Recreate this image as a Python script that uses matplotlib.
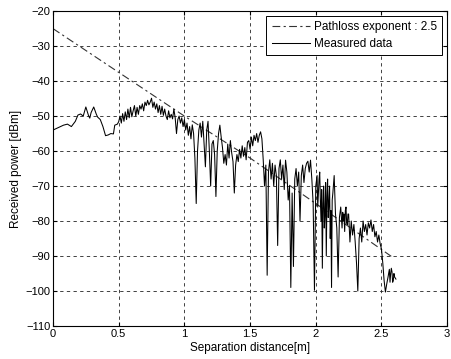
import numpy as np
import matplotlib.pyplot as plt

plt.rcParams['font.family'] = ['Liberation Sans', 'DejaVu Sans']

# pathloss model line (exponent 2.5)
model_d = [0.0, 0.5, 1.0, 1.5, 2.0, 2.59]
model_p = [-25.0, -37.5, -50.0, -62.0, -75.0, -90.5]

# measured received power
meas_d = [
    0.00, 0.04, 0.08, 0.11, 0.14, 0.17, 0.19, 0.21, 0.23, 0.25, 0.27, 0.28, 0.29,
    0.31, 0.33, 0.34, 0.36, 0.38, 0.40, 0.42, 0.44, 0.46, 0.47, 0.49, 0.50,
    0.51, 0.52, 0.53, 0.54, 0.55, 0.56, 0.57, 0.58, 0.59, 0.60, 0.61, 0.62, 0.63,
    0.64, 0.65, 0.66, 0.67, 0.68, 0.69, 0.70, 0.71, 0.72, 0.73, 0.74, 0.75, 0.76,
    0.77, 0.78, 0.79, 0.80, 0.81, 0.82, 0.83, 0.84, 0.85, 0.86, 0.87, 0.88, 0.89,
    0.90, 0.91, 0.92, 0.93, 0.94, 0.95, 0.96, 0.97, 0.98, 0.99, 1.00,
    1.01, 1.02, 1.03, 1.04, 1.05, 1.06, 1.07, 1.08, 1.09, 1.10, 1.11, 1.12, 1.13,
    1.14, 1.15, 1.16, 1.17, 1.18, 1.19, 1.20, 1.21, 1.22, 1.23, 1.24, 1.25, 1.26,
    1.27, 1.28, 1.29, 1.30, 1.31, 1.32, 1.33, 1.34, 1.35, 1.36, 1.37, 1.38, 1.39,
    1.40, 1.41, 1.42, 1.43, 1.44, 1.45, 1.46, 1.47, 1.48, 1.49, 1.50,
    1.51, 1.52, 1.53, 1.54, 1.55, 1.56, 1.57, 1.58, 1.59, 1.60, 1.61, 1.62, 1.63,
    1.64, 1.65, 1.66, 1.67, 1.68, 1.69, 1.70, 1.71, 1.72, 1.73, 1.74, 1.75, 1.76,
    1.77, 1.78, 1.79, 1.80, 1.81, 1.82, 1.83, 1.84, 1.85, 1.86, 1.87, 1.88, 1.89,
    1.90, 1.91, 1.92, 1.93, 1.94, 1.95, 1.96, 1.97, 1.98, 1.99, 2.00,
    2.01, 2.015, 2.02, 2.025, 2.03, 2.035, 2.04, 2.045, 2.05, 2.055, 2.06, 2.065,
    2.07, 2.075, 2.08, 2.085, 2.09, 2.095, 2.10, 2.105, 2.11, 2.115, 2.12, 2.125,
    2.13, 2.14, 2.15, 2.16, 2.17, 2.18, 2.19, 2.20, 2.205, 2.21, 2.215, 2.22, 2.225,
    2.23, 2.235, 2.24, 2.245, 2.25, 2.26, 2.27, 2.28, 2.29, 2.30, 2.31, 2.32, 2.33,
    2.34, 2.35, 2.36, 2.37, 2.38, 2.39, 2.40, 2.41, 2.42, 2.43, 2.44, 2.45, 2.46,
    2.47, 2.48, 2.49, 2.50, 2.51, 2.52, 2.53, 2.54, 2.55, 2.56, 2.565, 2.57, 2.575,
    2.58, 2.585, 2.59, 2.595, 2.60, 2.61,
]
meas_p = [
    -54.0, -53.3, -52.6, -52.3, -53.0, -51.5, -49.7, -49.4, -50.0, -47.4, -49.8, -50.6, -49.0,
    -47.4, -49.5, -50.3, -51.0, -53.0, -55.6, -55.4, -55.0, -55.1, -52.6, -52.3, -51.6,
    -50.0, -52.0, -49.3, -51.5, -48.8, -51.0, -48.0, -50.5, -47.5, -50.2, -48.5, -47.0, -50.0,
    -47.5, -49.5, -47.0, -48.0, -46.5, -48.5, -46.0, -47.0, -45.5, -46.8, -46.0, -44.9, -47.5,
    -46.0, -48.0, -46.5, -49.0, -47.0, -49.5, -47.2, -49.8, -48.0, -50.0, -51.0, -48.5, -50.5,
    -49.5, -50.8, -48.0, -50.5, -55.0, -51.0, -50.0, -52.0, -50.5, -53.0, -51.0,
    -54.0, -52.0, -55.5, -53.0, -56.5, -52.5, -55.0, -62.0, -75.0, -60.0, -54.0, -52.0, -56.0,
    -51.5, -58.0, -64.5, -54.0, -51.5, -60.0, -70.0, -58.0, -57.0, -61.0, -73.0, -60.0, -55.0,
    -52.6, -56.0, -59.0, -63.5, -61.0, -64.0, -58.0, -62.0, -57.0, -60.5, -63.0, -72.0, -64.0,
    -61.0, -63.0, -59.5, -62.0, -58.5, -61.5, -59.0, -62.5, -57.5, -57.0, -59.5,
    -56.0, -58.5, -55.5, -57.0, -55.0, -57.5, -55.5, -54.5, -56.5, -62.5, -70.0, -64.0, -95.5,
    -66.0, -62.5, -68.0, -63.5, -70.0, -64.0, -67.0, -87.0, -65.0, -62.5, -68.0, -64.0, -71.0,
    -62.6, -66.0, -74.0, -70.0, -99.0, -72.0, -93.0, -68.0, -65.0, -70.0, -66.0, -80.0, -67.0,
    -64.0, -69.0, -65.0, -63.5, -62.9, -66.0, -62.6, -68.0, -75.0, -99.8, -70.0,
    -67.0, -76.0, -72.0, -68.0, -66.0, -74.0, -80.0, -71.0, -93.5, -75.0, -70.0, -82.0,
    -78.0, -69.0, -90.0, -73.0, -68.0, -79.0, -75.0, -70.0, -85.0, -77.0, -99.0, -74.0,
    -72.0, -67.0, -78.0, -82.0, -96.0, -79.0, -76.0, -82.0, -77.5, -80.0, -78.0, -83.0, -77.0,
    -76.0, -80.5, -81.0, -78.0, -78.0, -86.0, -80.0, -84.0, -81.0, -86.0, -92.0, -100.0,
    -85.0, -82.0, -86.0, -80.0, -83.0, -81.0, -84.0, -80.5, -82.0, -79.7, -83.0, -81.0,
    -84.5, -83.0, -86.0, -84.0, -86.5, -88.0, -92.0, -97.0, -100.3, -98.0, -96.0, -93.8,
    -97.5, -95.0, -93.5, -94.5, -97.5, -97.0, -95.0, -96.0, -96.6,
]

x_ticks = [0, 0.5, 1, 1.5, 2, 2.5, 3]
x_tick_labels = ['0', '0.5', '1', '1.5', '2', '2.5', '3']
y_ticks = [-110, -100, -90, -80, -70, -60, -50, -40, -30, -20]

fig = plt.figure(figsize=(4.51, 3.59), dpi=100)
ax = fig.add_axes([0.1175, 0.092, 0.874, 0.877])

ax.plot(model_d, model_p, color='#333333', lw=0.8, linestyle=(0, (7, 3, 2, 3)),
        label='Pathloss exponent : 2.5')
ax.plot(meas_d, meas_p, color='black', lw=0.75, label='Measured data')

ax.set_xlim(0, 3)
ax.set_ylim(-110, -20)
ax.set_xticks(x_ticks)
ax.set_xticklabels(x_tick_labels)
ax.set_yticks(y_ticks)
ax.tick_params(direction='in', length=3, labelsize=8, top=True, right=True, pad=2)
ax.grid(True, color='#222222', linestyle=(0, (4, 4)), linewidth=0.6)
for sp in ax.spines.values():
    sp.set_linewidth(0.8)

ax.set_xlabel('Separation distance[m]', fontsize=8.5, labelpad=2)
ax.set_ylabel('Received power [dBm]', fontsize=8.5, labelpad=2)

leg = ax.legend(loc='upper right', fontsize=8.5, frameon=True, fancybox=False,
                edgecolor='black', framealpha=1, handlelength=3.3,
                borderaxespad=0.4, borderpad=0.45, labelspacing=0.4, handletextpad=0.3)
leg.get_frame().set_linewidth(0.7)

plt.savefig('out.png', dpi=100)
